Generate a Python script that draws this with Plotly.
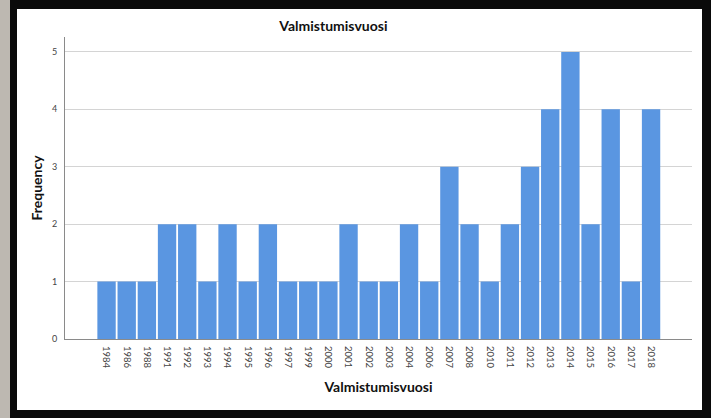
import plotly.graph_objects as go

years = ["1984", "1986", "1988", "1991", "1992", "1993", "1994", "1995", "1996", "1997",
         "1999", "2000", "2001", "2002", "2003", "2004", "2006", "2007", "2008", "2010",
         "2011", "2012", "2013", "2014", "2015", "2016", "2017", "2018"]
frequency = [1, 1, 1, 2, 2, 1, 2, 1, 2, 1,
             1, 1, 2, 1, 1, 2, 1, 3, 2, 1,
             2, 3, 4, 5, 2, 4, 1, 4]
y_ticks = [0, 1, 2, 3, 4, 5]

W, H = 711, 418
L, R, T, B = 65, 692, 37, 339  # plot area in pixels

def px(x):
    return (x - L) / (R - L)

def py(y):
    return (B - y) / (B - T)

FONT = "Lato"

fig = go.Figure()
fig.add_trace(go.Bar(
    x=list(range(len(years))), y=frequency,
    marker=dict(color="#5A96E1", line=dict(width=0)),
    hoverinfo="skip",
))

shapes = [
    # photo background strip on the left
    dict(type="rect", xref="paper", yref="paper", x0=px(-5), x1=px(10), y0=py(430), y1=py(-10),
         fillcolor="#BDB8B1", line=dict(width=0), layer="below"),
    # white chart panel inside the black frame
    dict(type="rect", xref="paper", yref="paper", x0=px(17), x1=px(702), y0=py(410), y1=py(9),
         fillcolor="white", line=dict(width=0), layer="below"),
]

fig.update_layout(
    width=W, height=H,
    margin=dict(l=L, r=W - R, t=T, b=H - B, pad=0),
    paper_bgcolor="#0A0A0A",
    plot_bgcolor="white",
    showlegend=False,
    bargap=0.09,
    shapes=shapes,
    font=dict(family=FONT, color="#333"),
    title=dict(text="<b>Valmistumisvuosi</b>", x=px(359), xanchor="center",
               y=1 - 26 / H, yanchor="middle",
               font=dict(family=FONT, size=14, color="#111")),
    xaxis=dict(
        tickmode="array", tickvals=list(range(len(years))), ticktext=years,
        tickangle=90, range=[-2.06, 29.03],
        showgrid=False, zeroline=False,
        showline=True, linecolor="#8A8A8A", linewidth=1,
        ticks="", ticklabelstandoff=4,
        tickfont=dict(family=FONT, size=9.5, color="#444"),
        title=dict(text="<b>Valmistumisvuosi</b>", standoff=14,
                   font=dict(family=FONT, size=14, color="#111")),
    ),
    yaxis=dict(
        range=[0, 5.26], tickmode="array", tickvals=y_ticks,
        showgrid=True, gridcolor="#D4D4D4", gridwidth=1,
        zeroline=False, showline=True, linecolor="#8A8A8A", linewidth=1,
        ticks="", ticklabelstandoff=5,
        tickfont=dict(family=FONT, size=9, color="#444"),
        title=dict(text="<b>Frequency</b>", standoff=6,
                   font=dict(family=FONT, size=14, color="#111")),
    ),
)

fig.write_html(
    "out.html",
    config={"displayModeBar": False},
    post_script="document.body.style.margin='0px';document.body.style.overflow='hidden';",
)
